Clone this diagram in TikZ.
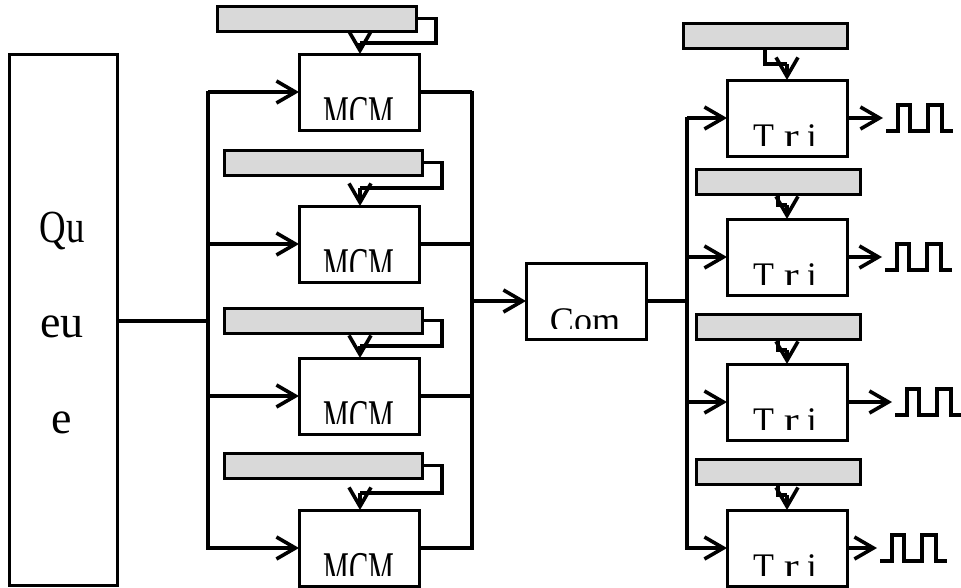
\documentclass[tikz,border=0pt]{standalone}
\usepackage{fontspec}
\setmainfont{Liberation Serif}
\usetikzlibrary{arrows.meta,calc}
\tikzset{
  x=1pt,y=-1pt,
  boxnode/.style={draw=black,fill=white,line width=3pt,minimum width=120pt,minimum height=76pt,inner sep=0pt,outer sep=0pt,anchor=north west},
  barnode/.style={draw=black,fill=barfill,line width=3pt,minimum height=25pt,inner sep=0pt,outer sep=0pt,anchor=north west},
  wire/.style={line width=3.2pt},
  buswire/.style={line width=3.4pt,line cap=rect},
  thinwire/.style={line width=3.2pt,line join=miter},
  arrowwire/.style={line width=3.2pt,-{Straight Barb[length=19pt,width=22pt,line width=3.6pt]}},
  pulse/.style={line width=3.2pt,line join=miter},
  lab/.style={inner sep=0pt,outer sep=0pt,anchor=base}
}
\definecolor{barfill}{HTML}{D9D9D9}
\begin{document}
\begin{tikzpicture}
\useasboundingbox (0,0) rectangle (961,587);
% queue
\node[boxnode,minimum width=108pt,minimum height=531pt] (queue) at (9,54) {};
\node[lab] (q1) at (62,242) {\fontsize{46}{46}\selectfont\scalebox{.8}[1]{Qu}};
\node[lab] (q2) at (62,337) {\fontsize{46}{46}\selectfont eu};
\node[lab] (q3) at (62,433) {\fontsize{46}{46}\selectfont e};
% MCM column
\foreach \i/\ty/\bx/\bw/\by/\fx/\fy in {1/54/217/199/6/436/43, 2/206/224/198/150/442/188, 3/358/224/198/308/442/346, 4/510/224/198/453/442/493}{
  \node[boxnode] (mcm\i) at (299,\ty) {};
  \begin{scope}
    \clip (299,\ty) rectangle (419,\ty+65);
    \node[lab] (mcmt\i) at (359,\ty+76) {\fontsize{50}{50}\selectfont\scalebox{.58}[1]{MCM}};
  \end{scope}
  \node[barnode,minimum width=\bw pt] (mbar\i) at (\bx,\by) {};
  \coordinate (mf\i) at (\fx,\fy);
  \coordinate (mt\i) at (360,\fy);
  \draw[thinwire] (mbar\i.east) -| (mf\i) -- (mt\i);
  \draw[arrowwire] (mt\i) -- (mt\i |- mcm\i.north);
}
\coordinate (lt) at (208,93);
\coordinate (lb) at (208,548);
\coordinate (rt) at (472,93);
\coordinate (rb) at (472,548);
\draw[buswire] (lt) -- (lb);
\draw[buswire] (rt) -- (rb);
\foreach \i in {1,...,4}{
  \draw[arrowwire] (mcm\i.west -| lt) -- (mcm\i.west);
  \draw[wire] (mcm\i.east) -- (mcm\i.east -| rt);
}
\draw[wire] (queue.east |- 0,321) -- (208,321);
% combiner
\node[boxnode] (com) at (526,263) {};
\begin{scope}
  \clip (526,263) rectangle (646,328);
  \node[lab] (comt) at (585,332) {\fontsize{36}{36}\selectfont Com};
\end{scope}
\coordinate (lm) at (472,301);
\draw[arrowwire] (lm) -- (com.west);
\coordinate (bt) at (687,119);
\coordinate (bb) at (687,548);
\draw[wire] (com.east) -- (com.east -| bt);
\draw[buswire] (bt) -- (bb);
% Tri column
\foreach \i/\ty/\bx/\by/\sx/\sy/\tipx/\px in {1/80/683/23/765/64/787/886, 2/219/696/169/778/205/787/885, 3/364/696/314/778/350/787/895, 4/510/696/459/778/495/787/880}{
  \node[boxnode] (tri\i) at (727,\ty) {};
  \begin{scope}
    \clip (727,\ty) rectangle (847,\ty+65);
    \node[lab] (trit\i) at (785,\ty+68) {\fontsize{36}{36}\selectfont\scalebox{.95}[1]{T}\hspace{10pt}\scalebox{1.25}[1]{r}\hspace{8pt}i};
  \end{scope}
  \node[barnode,minimum width=164pt] (tbar\i) at (\bx,\by) {};
  \coordinate (ts\i) at (\sx,\by+25);
  \coordinate (tk\i) at (\sx,\sy);
  \coordinate (tm\i) at (\tipx,\sy);
  \draw[thinwire] (ts\i) -- (tk\i) -- (tm\i);
  \draw[arrowwire] (tm\i) -- (tm\i |- tri\i.north);
  \draw[arrowwire] (tri\i.west -| bt) -- (tri\i.west);
  \coordinate (pul\i) at (\px,\ty+51);
  \coordinate (ptip\i) at (\px-3,\ty+38);
  \draw[arrowwire] (tri\i.east |- ptip\i) -- (ptip\i);
  \draw[pulse] (pul\i) -- ++(12,0) -- ++(0,-26) -- ++(12,0) -- ++(0,26) -- ++(18,0) -- ++(0,-26) -- ++(14,0) -- ++(0,26) -- ++(11,0);
}
\end{tikzpicture}
\end{document}
